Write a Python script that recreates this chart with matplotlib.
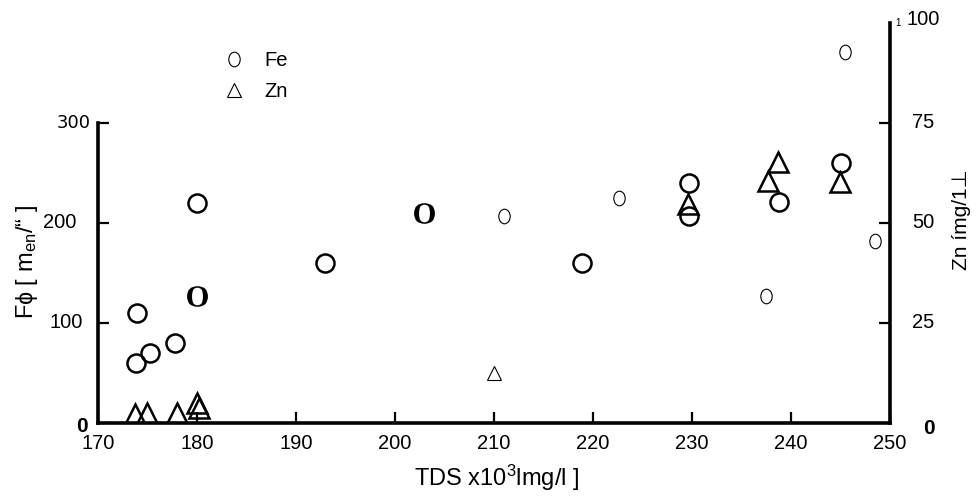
import matplotlib
matplotlib.use('Agg')
import matplotlib.pyplot as plt
from matplotlib.path import Path
from matplotlib.transforms import Affine2D
from matplotlib.lines import Line2D

plt.rcParams['font.family'] = ['Liberation Sans', 'DejaVu Sans']
plt.rcParams['mathtext.fontset'] = 'custom'
plt.rcParams['mathtext.rm'] = 'Liberation Sans'
plt.rcParams['mathtext.sf'] = 'Liberation Sans'
plt.rcParams['mathtext.it'] = 'Liberation Sans'
plt.rcParams['mathtext.bf'] = 'Liberation Serif:bold'

# ---- data ----
# Fe [left axis], large bold circles
fe_big_tds = [173.9, 173.8, 175.3, 177.8, 180.0, 192.9, 218.9, 229.7, 229.7, 238.8, 245.1]
fe_big_val = [110, 60, 70, 80, 220, 160, 160, 240, 207, 221, 260]
# Fe plotted as serif bold "O"
fe_o_tds = [180.0, 202.9]
fe_o_val = [127, 210]
# Fe small thin circles
fe_small_tds = [211.0, 222.6, 237.5, 248.5, 245.5]
fe_small_val = [207, 225, 127, 182, 371]
# Zn [right axis], large triangles
zn_big_tds = [173.7, 174.9, 178.0, 180.0, 180.2, 229.6, 237.7, 238.7, 245.0]
zn_big_val = [2.2, 2.6, 2.5, 5.0, 3.8, 54.8, 60.6, 65.3, 60.2]
# Zn small thin triangle
zn_small_tds = [210.0]
zn_small_val = [12.6]

x_ticks = [170, 180, 190, 200, 210, 220, 230, 240, 250]
fe_ticks = [0, 100, 200, 300]
fe_tick_labels = ['0', '100', '200', '300']
zn_ticks = [0, 25, 50, 75, 100]
zn_tick_labels = ['0', '25', '50', '75', '100']

# ---- figure ----
fig = plt.figure(figsize=(9.79, 5.0), dpi=100)
ax = fig.add_axes([98 / 979, 77 / 500, 792 / 979, 400 / 500])
ax.set_xlim(170, 250)
ax.set_ylim(0, 400)
ax2 = ax.twinx()
ax2.set_ylim(0, 100)

ellipse = Path(Affine2D().scale(0.78, 1.0).transform(Path.unit_circle().vertices),
               Path.unit_circle().codes)

ax.plot(fe_big_tds, fe_big_val, ls='none', marker='o', ms=13, mfc='none',
        mec='black', mew=1.8, zorder=3)
ax.plot(fe_o_tds, fe_o_val, ls='none', marker=r'$\mathbf{O}$', ms=15,
        color='black', mew=0, zorder=3)
ax.plot(fe_small_tds, fe_small_val, ls='none', marker=ellipse, ms=10.5, mfc='none',
        mec='black', mew=0.8, zorder=3)
ax2.plot(zn_big_tds, zn_big_val, ls='none', marker='^', ms=14.5, mfc='none',
         mec='black', mew=1.8, zorder=3)
ax2.plot(zn_small_tds, zn_small_val, ls='none', marker='^', ms=9.5, mfc='none',
         mec='black', mew=0.8, zorder=3)

# spines
for s in ['top', 'right']:
    ax.spines[s].set_visible(False)
for s in ['top', 'left', 'bottom']:
    ax2.spines[s].set_visible(False)
ax.spines['left'].set_bounds(0, 300)
ax.spines['left'].set_linewidth(2.6)
ax.spines['bottom'].set_linewidth(2.6)
ax2.spines['right'].set_linewidth(2.6)

# x ticks
ax.set_xticks(x_ticks)
ax.set_xticklabels([str(v) for v in x_ticks])
ax.tick_params(axis='x', direction='in', length=8, width=1.6, pad=8, labelsize=14.5)

# left y ticks
ax.set_yticks(fe_ticks)
ax.set_yticklabels([''] * len(fe_ticks))
ax.tick_params(axis='y', direction='in', length=8, width=1.6)
left_off = {0: (-10, -3), 100: (-15, 0), 200: (-22, 0), 300: (-7, 0)}
for v, lbl in zip(fe_ticks, fe_tick_labels):
    dx, dy = left_off[v]
    kw = dict(fontsize=14.5)
    if v == 0:
        kw = dict(fontsize=15, fontweight='bold')
    if v == 300:
        kw = dict(fontsize=13, family='DejaVu Sans')
    ax.annotate(lbl, xy=(0, v), xycoords=('axes fraction', 'data'),
                xytext=(dx, dy), textcoords='offset pixels',
                ha='right', va='center', **kw)

# right y ticks
ax2.set_yticks(zn_ticks)
ax2.set_yticklabels([''] * len(zn_ticks))
ax2.tick_params(axis='y', direction='in', length=8, width=1.6)
for i, t in enumerate(ax2.yaxis.get_major_ticks()):
    if zn_ticks[i] in (0, 100):
        t.tick2line.set_visible(False)
right_off = {0: (33, -5), 25: (22, 0), 50: (22, 0), 75: (22, 0), 100: (17, 3)}
for v, lbl in zip(zn_ticks, zn_tick_labels):
    dx, dy = right_off[v]
    kw = dict(fontsize=14.5)
    if v == 0:
        kw = dict(fontsize=15, fontweight='bold')
    ax2.annotate(lbl, xy=(1, v), xycoords=('axes fraction', 'data'),
                 xytext=(dx, dy), textcoords='offset pixels',
                 ha='left', va='center', **kw)
ax2.annotate('1', xy=(1, 100), xycoords=('axes fraction', 'data'),
             xytext=(5, 0), textcoords='offset pixels', ha='left', va='center',
             fontsize=7)

# axis labels
fig.text(27 / 979, 1 - 262 / 500, 'Fɸ [ m$_{\\mathrm{en}}$/“ ]', rotation=90,
         ha='center', va='center', fontsize=17)
fig.text(962 / 979, 1 - 220 / 500, 'Zn ímg/1⊥', rotation=90,
         ha='center', va='center', fontsize=15)
fig.text(497 / 979, 1 - 478 / 500, 'TDS x10$^{\\mathrm{3}}$lmg/l ]',
         ha='center', va='center', fontsize=17)

# legend
handles = [Line2D([], [], ls='none', marker=ellipse, ms=10.5, mfc='none', mec='black', mew=0.8),
           Line2D([], [], ls='none', marker='^', ms=9.5, mfc='none', mec='black', mew=0.8)]
ax.legend(handles, ['Fe', 'Zn'], loc='upper left', bbox_to_anchor=(224 / 979, 1 - 51 / 500),
          bbox_transform=fig.transFigure, frameon=False, fontsize=14.5,
          handlelength=1.0, handletextpad=1.0, labelspacing=0.6, borderpad=0,
          borderaxespad=0)

fig.savefig('out.png', dpi=100)
